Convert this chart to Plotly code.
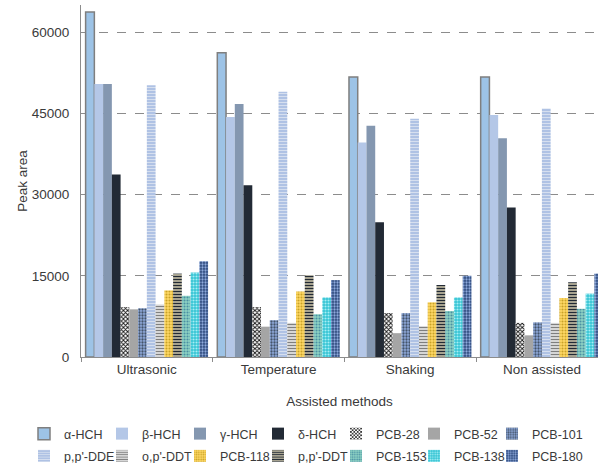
import plotly.graph_objects as go

# Extraction methods (x categories)
methods = ["Ultrasonic", "Temperature", "Shaking", "Non assisted"]

# Peak areas per analyte, in the order of the methods above
alpha_hch = [63700, 56200, 51700, 51700]
beta_hch = [50400, 44300, 39600, 44700]
gamma_hch = [50400, 46700, 42700, 40400]
delta_hch = [33700, 31700, 24900, 27600]
pcb_28 = [9200, 9200, 8100, 6300]
pcb_52 = [8800, 5600, 4400, 4000]
pcb_101 = [9000, 6800, 8100, 6400]
pp_dde = [50200, 49000, 44000, 45900]
op_ddt = [9700, 6300, 5700, 6300]
pcb_118 = [12300, 12100, 10100, 10900]
pp_ddt = [15400, 15100, 13300, 13800]
pcb_153 = [11300, 7900, 8500, 8900]
pcb_138 = [15600, 11000, 11000, 11700]
pcb_180 = [17700, 14200, 15000, 15400]

y_ticks = [0, 15000, 30000, 45000, 60000]

FONT = "Liberation Sans, Arial, sans-serif"
FS = 13.5
FS_LEG = 12.5
TXT = "#3a3a3a"
AXIS = "#8c8c8c"

W, H = 598, 463
M_L, M_R, M_T, M_B = 81, 0, 5, 106
PLOT_W = W - M_L - M_R
PLOT_H = H - M_T - M_B

# name, values, fill, pattern (shape, fg, bg, size, solidity), outline
series = [
    ("α-HCH", alpha_hch, "#9DC3E6", None, ("#7F7F7F", 1.5)),
    ("β-HCH", beta_hch, "#B4C7E7", None, None),
    ("γ-HCH", gamma_hch, "#8497B0", None, None),
    ("δ-HCH", delta_hch, "#222A35", None, None),
    ("PCB-28", pcb_28, "#FFFFFF", ("x", "#111111", "#FFFFFF", 3, 0.5), None),
    ("PCB-52", pcb_52, "#A5A5A5", None, None),
    ("PCB-101", pcb_101, "#8FAADC", (".", "#44546A", "#8FAADC", 3, 0.45), None),
    ("p,p'-DDE", pp_dde, "#B4C7E7", ("-", "#D6DFEF", "#AFC2E4", 3, 0.35), None),
    ("o,p'-DDT", op_ddt, "#FFFFFF", ("-", "#7F7F7F", "#FFFFFF", 3, 0.55), None),
    ("PCB-118", pcb_118, "#FFD966", (".", "#C9A227", "#FFD966", 3, 0.4), None),
    ("p,p'-DDT", pp_ddt, "#222A35", ("-", "#222A35", "#FFF2CC", 3, 0.6), None),
    ("PCB-153", pcb_153, "#7FCBBF", (".", "#4A90A4", "#8ED3C3", 3, 0.4), None),
    ("PCB-138", pcb_138, "#33CCDD", (".", "#A6EEF4", "#36C4D4", 3, 0.4), None),
    ("PCB-180", pcb_180, "#2E4A7D", (".", "#8FAADC", "#2E4A7D", 3, 0.45), None),
]

N_COLS = 7
legend_ids = ["legend"] + [f"legend{k}" for k in range(2, N_COLS + 1)]

fig = go.Figure()
for i, (name, vals, color, pat, outline) in enumerate(series):
    marker = dict(color=color)
    if pat is not None:
        shape, fg, bg, size, solid = pat
        marker["pattern"] = dict(shape=shape, fgcolor=fg, bgcolor=bg,
                                 size=size, solidity=solid, fillmode="replace")
    if outline is not None:
        marker["line"] = dict(color=outline[0], width=outline[1])
    else:
        marker["line"] = dict(width=0)
    # legend laid out as a 2-row grid: one small legend per column
    fig.add_trace(go.Bar(name=name, x=methods, y=vals, marker=marker,
                         legend=legend_ids[i % N_COLS], legendgroup=name))


def paper_x(px):
    return (px - M_L) / PLOT_W


def paper_y(py):
    return (H - M_B - py) / PLOT_H


# left edge of each legend column, in pixels
col_left = [24 + 78 * k for k in range(N_COLS)]

legend_layout = {}
for k, lid in enumerate(legend_ids):
    legend_layout[lid] = dict(
        orientation="v",
        xref="paper", yref="paper",
        x=paper_x(col_left[k]), y=paper_y(419),
        xanchor="left", yanchor="top",
        font=dict(family=FONT, size=FS_LEG, color=TXT),
        itemwidth=30,
        tracegroupgap=3,
        bgcolor="rgba(0,0,0,0)",
    )

fig.update_layout(
    width=W,
    height=H,
    margin=dict(l=M_L, r=M_R, t=M_T, b=M_B, autoexpand=False),
    paper_bgcolor="white",
    plot_bgcolor="white",
    barmode="group",
    bargap=0.07,
    bargroupgap=0,
    font=dict(family=FONT, size=FS, color=TXT),
    showlegend=True,
    **legend_layout,
)

fig.update_xaxes(
    type="category",
    range=[-0.5, 3.426],
    showline=True, linecolor=AXIS, linewidth=1,
    ticks="outside", tickson="boundaries", ticklen=4, tickcolor=AXIS,
    showgrid=False,
    tickfont=dict(family=FONT, size=FS, color=TXT),
    title=dict(text="Assisted methods", standoff=20,
               font=dict(family=FONT, size=FS, color=TXT)),
)

fig.update_yaxes(
    range=[0, 65000],
    tickvals=y_ticks,
    ticktext=[str(v) for v in y_ticks],
    showline=True, linecolor=AXIS, linewidth=1,
    ticks="outside", ticklen=8, tickcolor="rgba(0,0,0,0)",
    showgrid=True, gridcolor="#8c8c8c", gridwidth=1, griddash="dash",
    zeroline=False,
    tickfont=dict(family=FONT, size=FS, color=TXT),
    title=dict(text="Peak area", standoff=1,
               font=dict(family=FONT, size=FS, color=TXT)),
)

fig.write_html("out.html")
